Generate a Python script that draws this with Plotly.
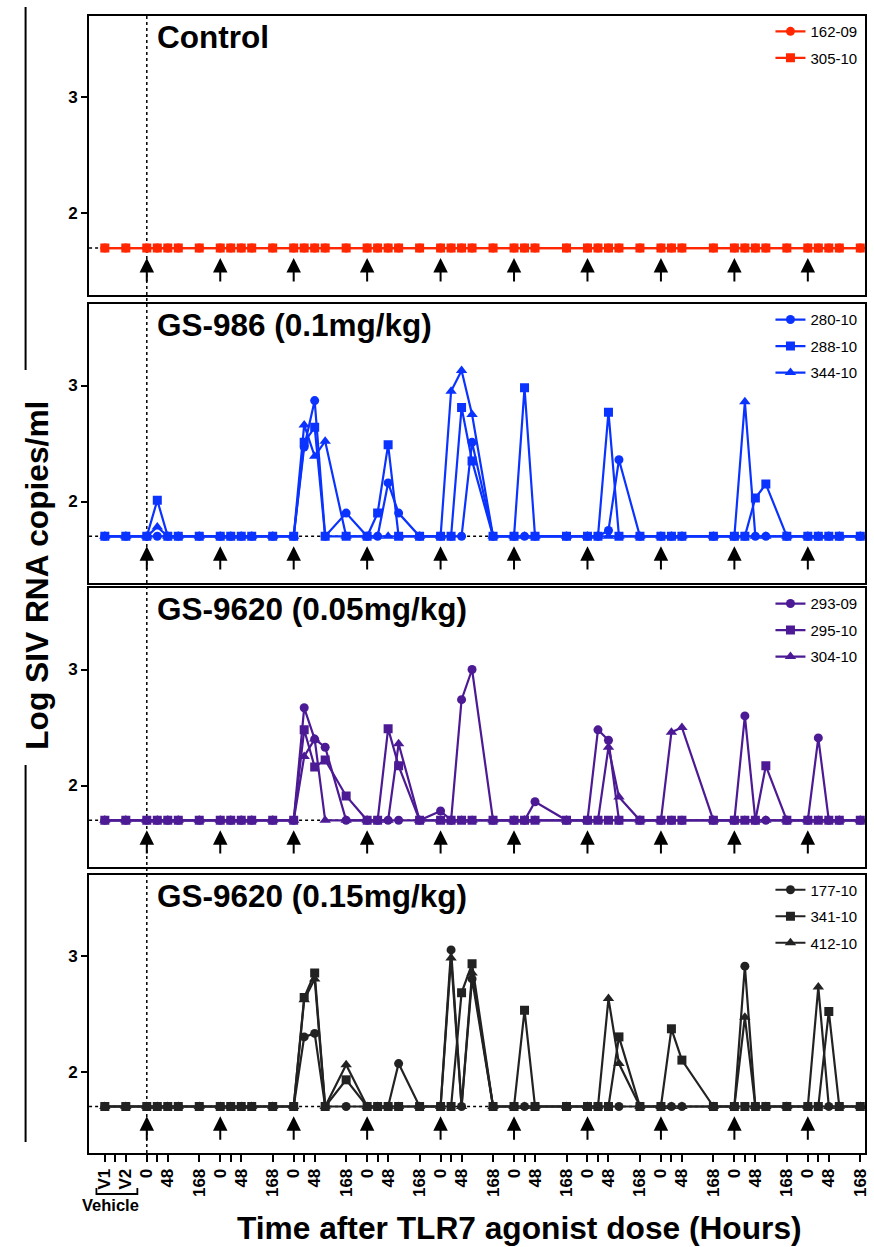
import plotly.graph_objects as go

# ---------------- data ----------------
# sampling positions on the (broken) time axis: V1, V2, then per dose 0,24,48,72,168 h
x_pos = [-4, -2,
         0, 1, 2, 3, 5,
         7, 8, 9, 10, 12,
         14, 15, 16, 17, 19,
         21, 22, 23, 24, 26,
         28, 29, 30, 31, 33,
         35, 36, 37, 40,
         42, 43, 44, 45, 47,
         49, 50, 51, 54,
         56, 57, 58, 59, 61,
         63, 64, 65, 66, 68]

dose_pos = [0, 7, 14, 21, 28, 35, 42, 49, 56, 63]

tick_vals = [-4, -3, -2,
             0, 1, 2, 5, 7, 8, 9, 12, 14, 15, 16, 19, 21, 22, 23, 26, 28, 29, 30, 33,
             35, 36, 37, 40, 42, 43, 44, 47, 49, 50, 51, 54, 56, 57, 58, 61, 63, 64, 65, 68]
tick_text = ["V1", "", "V2",
             "0", "", "48", "168", "0", "", "48", "168", "0", "", "48", "168",
             "0", "", "48", "168", "0", "", "48", "168", "0", "", "48", "168",
             "0", "", "48", "168", "0", "", "48", "168", "0", "", "48", "168",
             "0", "", "48", "168"]

LOD = 1.7

ctrl_162_09 = [1.7, 1.7,
               1.7, 1.7, 1.7, 1.7, 1.7,
               1.7, 1.7, 1.7, 1.7, 1.7,
               1.7, 1.7, 1.7, 1.7, 1.7,
               1.7, 1.7, 1.7, 1.7, 1.7,
               1.7, 1.7, 1.7, 1.7, 1.7,
               1.7, 1.7, 1.7, 1.7,
               1.7, 1.7, 1.7, 1.7, 1.7,
               1.7, 1.7, 1.7, 1.7,
               1.7, 1.7, 1.7, 1.7, 1.7,
               1.7, 1.7, 1.7, 1.7, 1.7]
ctrl_305_10 = [1.7, 1.7,
               1.7, 1.7, 1.7, 1.7, 1.7,
               1.7, 1.7, 1.7, 1.7, 1.7,
               1.7, 1.7, 1.7, 1.7, 1.7,
               1.7, 1.7, 1.7, 1.7, 1.7,
               1.7, 1.7, 1.7, 1.7, 1.7,
               1.7, 1.7, 1.7, 1.7,
               1.7, 1.7, 1.7, 1.7, 1.7,
               1.7, 1.7, 1.7, 1.7,
               1.7, 1.7, 1.7, 1.7, 1.7,
               1.7, 1.7, 1.7, 1.7, 1.7]

gs986_280_10 = [1.7, 1.7,
                1.7, 1.7, 1.7, 1.7, 1.7,
                1.7, 1.7, 1.7, 1.7, 1.7,
                1.7, 2.47, 2.87, 1.7, 1.90,
                1.7, 1.7, 2.16, 1.90, 1.7,
                1.7, 1.7, 1.7, 2.51, 1.7,
                1.7, 1.7, 1.7, 1.7,
                1.7, 1.7, 1.75, 2.36, 1.7,
                1.7, 1.7, 1.7, 1.7,
                1.7, 1.7, 1.7, 1.7, 1.7,
                1.7, 1.7, 1.7, 1.7, 1.7]
gs986_288_10 = [1.7, 1.7,
                1.7, 2.01, 1.7, 1.7, 1.7,
                1.7, 1.7, 1.7, 1.7, 1.7,
                1.7, 2.51, 2.64, 1.7, 1.7,
                1.7, 1.90, 2.49, 1.7, 1.7,
                1.7, 1.7, 2.81, 2.35, 1.7,
                1.7, 2.98, 1.7, 1.7,
                1.7, 1.7, 2.77, 1.7, 1.7,
                1.7, 1.7, 1.7, 1.7,
                1.7, 1.7, 2.03, 2.15, 1.7,
                1.7, 1.7, 1.7, 1.7, 1.7]
gs986_344_10 = [1.7, 1.7,
                1.7, 1.78, 1.7, 1.7, 1.7,
                1.7, 1.7, 1.7, 1.7, 1.7,
                1.7, 2.66, 2.39, 2.52, 1.7,
                1.7, 1.7, 1.7, 1.7, 1.7,
                1.7, 2.95, 3.13, 2.75, 1.7,
                1.7, 1.7, 1.7, 1.7,
                1.7, 1.7, 1.7, 1.7, 1.7,
                1.7, 1.7, 1.7, 1.7,
                1.7, 2.86, 1.7, 1.7, 1.7,
                1.7, 1.7, 1.7, 1.7, 1.7]

lo_293_09 = [1.7, 1.7,
             1.7, 1.7, 1.7, 1.7, 1.7,
             1.7, 1.7, 1.7, 1.7, 1.7,
             1.7, 2.67, 2.40, 2.33, 1.7,
             1.7, 1.7, 1.7, 1.7, 1.7,
             1.78, 1.7, 2.74, 3.00, 1.7,
             1.7, 1.7, 1.86, 1.7,
             1.7, 2.48, 2.39, 1.7, 1.7,
             1.7, 1.7, 1.7, 1.7,
             1.7, 2.60, 1.7, 1.7, 1.7,
             1.7, 2.41, 1.7, 1.7, 1.7]
lo_295_10 = [1.7, 1.7,
             1.7, 1.7, 1.7, 1.7, 1.7,
             1.7, 1.7, 1.7, 1.7, 1.7,
             1.7, 2.48, 2.16, 2.22, 1.91,
             1.7, 1.7, 2.49, 2.17, 1.7,
             1.7, 1.7, 1.7, 1.7, 1.7,
             1.7, 1.7, 1.7, 1.7,
             1.7, 1.7, 1.7, 1.7, 1.7,
             1.7, 1.7, 1.7, 1.7,
             1.7, 1.7, 1.7, 2.17, 1.7,
             1.7, 1.7, 1.7, 1.7, 1.7]
lo_304_10 = [1.7, 1.7,
             1.7, 1.7, 1.7, 1.7, 1.7,
             1.7, 1.7, 1.7, 1.7, 1.7,
             1.7, 2.25, 2.40, 1.7, 1.7,
             1.7, 1.7, 1.7, 2.36, 1.7,
             1.7, 1.7, 1.7, 1.7, 1.7,
             1.7, 1.7, 1.7, 1.7,
             1.7, 1.7, 2.33, 1.90, 1.7,
             1.7, 2.46, 2.50, 1.7,
             1.7, 1.7, 1.7, 1.7, 1.7,
             1.7, 1.7, 1.7, 1.7, 1.7]

hi_177_10 = [1.7, 1.7,
             1.7, 1.7, 1.7, 1.7, 1.7,
             1.7, 1.7, 1.7, 1.7, 1.7,
             1.7, 2.30, 2.33, 1.7, 1.7,
             1.7, 1.7, 1.7, 2.07, 1.7,
             1.7, 3.05, 1.7, 2.80, 1.7,
             1.7, 1.7, 1.7, 1.7,
             1.7, 1.7, 1.7, 1.7, 1.7,
             1.7, 1.7, 1.7, 1.7,
             1.7, 2.91, 1.7, 1.7, 1.7,
             1.7, 1.7, 1.7, 1.7, 1.7]
hi_341_10 = [1.7, 1.7,
             1.7, 1.7, 1.7, 1.7, 1.7,
             1.7, 1.7, 1.7, 1.7, 1.7,
             1.7, 2.64, 2.85, 1.7, 1.93,
             1.7, 1.7, 1.7, 1.7, 1.7,
             1.7, 1.7, 2.68, 2.93, 1.7,
             1.7, 2.53, 1.7, 1.7,
             1.7, 1.7, 1.7, 2.30, 1.7,
             1.7, 2.37, 2.10, 1.7,
             1.7, 1.7, 1.7, 1.7, 1.7,
             1.7, 1.7, 2.52, 1.7, 1.7]
hi_412_10 = [1.7, 1.7,
             1.7, 1.7, 1.7, 1.7, 1.7,
             1.7, 1.7, 1.7, 1.7, 1.7,
             1.7, 2.62, 2.80, 1.7, 2.06,
             1.7, 1.7, 1.7, 1.7, 1.7,
             1.7, 2.98, 1.7, 2.85, 1.7,
             1.7, 1.7, 1.7, 1.7,
             1.7, 1.7, 2.63, 2.07, 1.7,
             1.7, 1.7, 1.7, 1.7,
             1.7, 2.47, 1.7, 1.7, 1.7,
             1.7, 2.73, 1.7, 1.7, 1.7]

panel_titles = ["Control", "GS-986 (0.1mg/kg)", "GS-9620 (0.05mg/kg)", "GS-9620 (0.15mg/kg)"]
panel_colors = ["#FF2600", "#0A33FF", "#4C1A94", "#222222"]
panel_series = [
    [("162-09", ctrl_162_09, "circle"), ("305-10", ctrl_305_10, "square")],
    [("280-10", gs986_280_10, "circle"), ("288-10", gs986_288_10, "square"), ("344-10", gs986_344_10, "triangle-up")],
    [("293-09", lo_293_09, "circle"), ("295-10", lo_295_10, "square"), ("304-10", lo_304_10, "triangle-up")],
    [("177-10", hi_177_10, "circle"), ("341-10", hi_341_10, "square"), ("412-10", hi_412_10, "triangle-up")],
]

# ---------------- layout geometry ----------------
W, H = 874, 1247
FONT = "Arial, 'Liberation Sans', Helvetica, sans-serif"
panel_tops = [16.1, 304.3, 588.3, 874.5]
panel_h = 278.4
x_left_px, x_right_px = 89.5, 869.3
XR = [-5.50, 68.48]
YR = [1.30, 3.70]

def py(p):
    return 1 - p / H

fig = go.Figure()
draw_order = {"circle": 0, "triangle-up": 1, "square": 2}
legend_rank = {"circle": 1, "square": 2, "triangle-up": 3}
msize = {"circle": 9, "square": 9, "triangle-up": 10}

for i, (title, color, series) in enumerate(zip(panel_titles, panel_colors, panel_series)):
    n = "" if i == 0 else str(i + 1)
    leg = "legend" if i == 0 else f"legend{i + 1}"
    for name, vals, sym in sorted(series, key=lambda s: draw_order[s[2]]):
        fig.add_trace(go.Scatter(
            x=x_pos, y=vals, mode="lines+markers", name=name,
            xaxis="x" + n, yaxis="y" + n, legend=leg, legendrank=legend_rank[sym],
            legendgroup=f"{i}-{name}",
            line=dict(color=color, width=2.2),
            marker=dict(symbol=sym, size=msize[sym], color=color, line=dict(width=0)),
        ))
    top, bot = panel_tops[i], panel_tops[i] + panel_h
    last = i == 3
    fig.layout["xaxis" + n] = dict(
        domain=[x_left_px / W, x_right_px / W], range=XR, anchor="y" + n,
        showline=True, mirror=True, linecolor="black", linewidth=2,
        showgrid=False, zeroline=False,
        tickmode="array", tickvals=tick_vals, ticktext=tick_text,
        ticks="outside" if last else "", ticklen=7, tickwidth=1.5, tickcolor="black",
        showticklabels=last, tickangle=-90,
        tickfont=dict(family=FONT, size=17, color="black", weight="bold"),
    )
    fig.layout["yaxis" + n] = dict(
        domain=[py(bot), py(top)], range=YR, anchor="x" + n,
        showline=True, mirror=True, linecolor="black", linewidth=2,
        showgrid=False, zeroline=False,
        tickmode="array", tickvals=[2, 3], ticktext=["2", "3"],
        ticks="outside", ticklen=6, tickwidth=1.5, tickcolor="black",
        tickfont=dict(family=FONT, size=17, color="black", weight="bold"),
    )
    fig.layout[leg] = dict(
        x=774 / W, y=py(top - 1), xanchor="left", yanchor="top",
        bgcolor="rgba(0,0,0,0)", font=dict(family=FONT, size=15, color="black"),
        tracegroupgap=4, itemwidth=30,
    )
    # panel title
    fig.add_annotation(x=156 / W, y=py(top + 21), xref="paper", yref="paper",
                       text=title, showarrow=False, xanchor="left", yanchor="middle",
                       font=dict(family=FONT, size=31.5, color="black", weight="bold"))
    # limit-of-detection dotted line
    fig.add_shape(type="line", xref=f"x{n} domain", yref="y" + n, x0=0, x1=1, y0=LOD, y1=LOD,
                  line=dict(color="black", width=1.5, dash="dot"), layer="below")
    # dose arrows
    for d in dose_pos:
        fig.add_annotation(x=d, y=1.615, ax=d, ay=1.40, xref="x" + n, yref="y" + n,
                           axref="x" + n, ayref="y" + n, text="", showarrow=True,
                           arrowhead=2, arrowsize=1.45, arrowwidth=2, arrowcolor="black",
                           standoff=0, startstandoff=0)

# vertical dotted line at first dose across all panels
fig.add_shape(type="line", xref="x4", yref="paper", x0=dose_pos[0], x1=dose_pos[0],
              y0=py(panel_tops[3] + panel_h), y1=py(panel_tops[0]),
              line=dict(color="black", width=1.5, dash="dot"), layer="below")

# Vehicle bracket under V1/V2
fig.add_shape(type="path", xref="x4", yref="paper",
              path=f"M {-4.8},{py(1188)} L {-4.8},{py(1194)} L {-0.9},{py(1194)} L {-0.9},{py(1188)}",
              line=dict(color="black", width=1.8))
fig.add_annotation(x=111 / W, y=py(1205), xref="paper", yref="paper", text="Vehicle",
                   showarrow=False, xanchor="center", yanchor="middle",
                   font=dict(family=FONT, size=16.5, color="black", weight="bold"))

# axis titles
fig.add_annotation(x=522 / W, y=py(1228), xref="paper", yref="paper",
                   text="Time after TLR7 agonist dose (Hours)", showarrow=False,
                   xanchor="center", yanchor="middle",
                   font=dict(family=FONT, size=31.7, color="black", weight="bold"))
fig.add_annotation(x=37 / W, y=py(575), xref="paper", yref="paper",
                   text="Log SIV RNA copies/ml", showarrow=False, textangle=-90,
                   xanchor="center", yanchor="middle",
                   font=dict(family=FONT, size=31.7, color="black", weight="bold"))
for y0, y1 in [(7, 370), (765, 1142)]:
    fig.add_shape(type="line", xref="paper", yref="paper", x0=25.7 / W, x1=25.7 / W,
                  y0=py(y0), y1=py(y1), line=dict(color="black", width=2))

fig.update_layout(
    width=W, height=H, margin=dict(l=0, r=0, t=0, b=0),
    paper_bgcolor="white", plot_bgcolor="white",
    showlegend=True,
)

fig.write_html("out.html")
